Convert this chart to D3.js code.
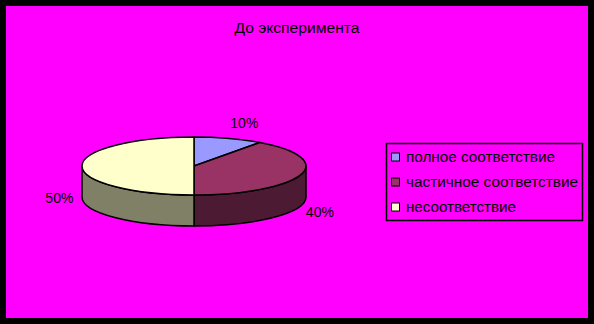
<!DOCTYPE html>
<html lang="ru">
<head>
  <meta charset="UTF-8">
  <title>До эксперимента</title>
  <script src="https://d3js.org/d3.v7.min.js"></script>
  <style>
    html, body { margin: 0; padding: 0; background: #000; }
    svg { display: block; }
    text { font-family: "Liberation Sans", Arial, sans-serif; fill: #000; }
  </style>
</head>
<body>

<div id="chart"></div>

<script>
  // chart data
  const title = "До эксперимента";
  const categories = ["полное соответствие", "частичное соответствие", "несоответствие"];
  const values = [10, 40, 50];
  const labels = ["10%", "40%", "50%"];
  const topColors = ["#9999ff", "#993366", "#ffffcc"];
  const sideColors = ["#4d4d80", "#4d1a33", "#808066"];

  const width = 594, height = 324;

  const svg = d3.select("#chart")
          .append("svg")
          .attr("width", width)
          .attr("height", height);

  // black frame + magenta plot area
  svg.append("rect").attr("width", width).attr("height", height).attr("fill", "#000");
  svg.append("rect")
          .attr("x", 6).attr("y", 6)
          .attr("width", width - 12).attr("height", height - 12)
          .attr("fill", "#ff00ff");

  svg.append("text")
          .attr("x", 297).attr("y", 33)
          .attr("text-anchor", "middle")
          .attr("font-size", 14)
          .attr("textLength", 125)
          .attr("lengthAdjust", "spacingAndGlyphs")
          .text(title);

  // 3d pie geometry
  const cx = 194, cy = 166, rx = 112, ry = 29, depth = 31;
  const pt = (a, k = 1, dy = 0) => [cx + rx * k * Math.sin(a), cy - ry * k * Math.cos(a) + dy];

  const arcs = d3.pie().sort(null).value(d => d)(values);

  function topPath(d) {
    const p0 = pt(d.startAngle), p1 = pt(d.endAngle);
    const large = d.endAngle - d.startAngle > Math.PI ? 1 : 0;
    return `M${cx},${cy}L${p0}A${rx},${ry} 0 ${large} 1 ${p1}Z`;
  }

  function sidePath(d) {
    const a0 = Math.max(d.startAngle, Math.PI / 2);
    const a1 = Math.min(d.endAngle, Math.PI * 1.5);
    if (a1 <= a0) return null;
    const p0 = pt(a0), p1 = pt(a1), q0 = pt(a0, 1, depth), q1 = pt(a1, 1, depth);
    return `M${p0}A${rx},${ry} 0 0 1 ${p1}L${q1}A${rx},${ry} 0 0 0 ${q0}Z`;
  }

  const g = svg.append("g")
          .attr("stroke", "#000")
          .attr("stroke-width", 1.5)
          .attr("stroke-linejoin", "round");

  g.selectAll(".side")
          .data(arcs.filter(d => sidePath(d)))
          .enter()
          .append("path")
          .attr("class", "side")
          .attr("d", sidePath)
          .attr("fill", d => sideColors[d.index]);

  g.selectAll(".top")
          .data(arcs)
          .enter()
          .append("path")
          .attr("class", "top")
          .attr("d", topPath)
          .attr("fill", d => topColors[d.index]);

  // percentage labels
  svg.selectAll(".lbl")
          .data(arcs)
          .enter()
          .append("text")
          .attr("class", "lbl")
          .attr("font-size", 14)
          .each(function(d) {
            const a = (d.startAngle + d.endAngle) / 2;
            const front = Math.cos(a) <= 0;
            const p = pt(a, 1.05, front ? depth : 0);
            const s = Math.sin(a);
            d3.select(this)
                    .attr("x", s < -0.1 ? p[0] - 3 : p[0])
                    .attr("y", p[1] + 6 - 16 * Math.cos(a))
                    .attr("text-anchor", s > 0.1 ? "start" : s < -0.1 ? "end" : "middle");
          })
          .text(d => labels[d.index]);

  // legend
  const legend = svg.append("g");
  legend.append("rect")
          .attr("x", 386.5).attr("y", 143.5)
          .attr("width", 196).attr("height", 77)
          .attr("fill", "none")
          .attr("stroke", "#000")
          .attr("stroke-width", 1.5);

  const rowY = d3.scalePoint().domain(categories).range([157, 207]);
  const row = legend.selectAll(".row")
          .data(categories)
          .enter()
          .append("g")
          .attr("class", "row")
          .attr("transform", d => "translate(0," + rowY(d) + ")");

  row.append("rect")
          .attr("x", 391.5).attr("y", -4)
          .attr("width", 8).attr("height", 8)
          .attr("fill", (_, i) => topColors[i])
          .attr("stroke", "#000")
          .attr("stroke-width", 1);

  const legendWidths = [149, 172, 110];
  row.append("text")
          .attr("x", 406).attr("y", 5)
          .attr("font-size", 14)
          .attr("textLength", (_, i) => legendWidths[i])
          .attr("lengthAdjust", "spacingAndGlyphs")
          .text(d => d);
</script>

</body>
</html>
